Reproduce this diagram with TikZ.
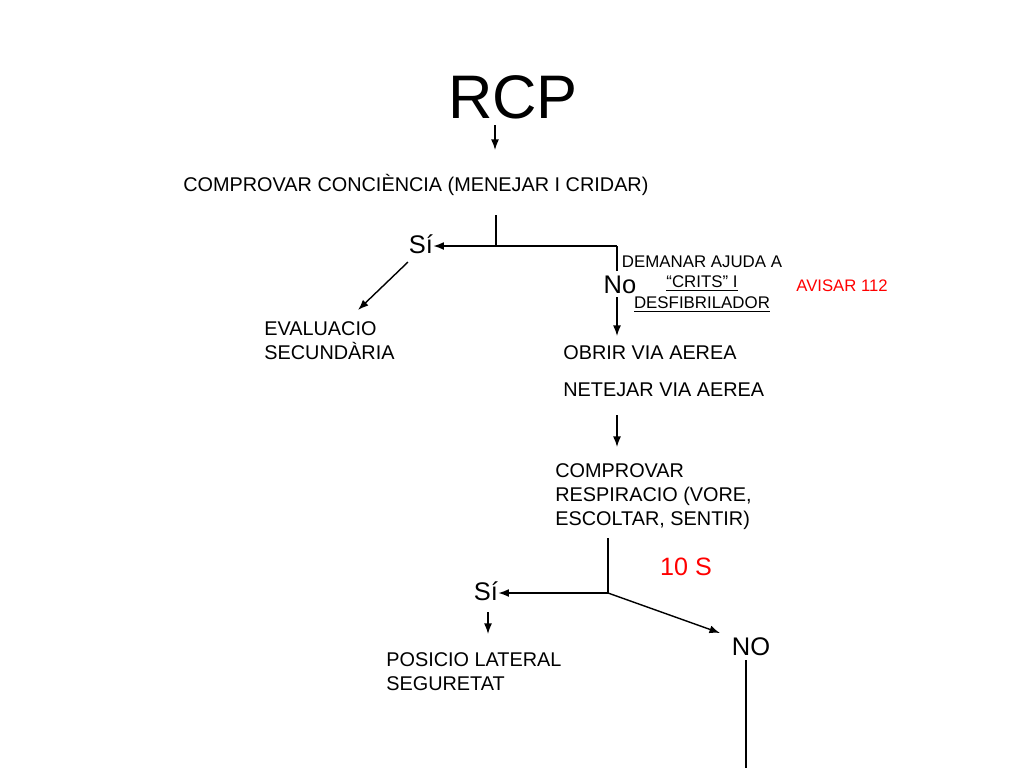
\documentclass[tikz,border=0pt]{standalone}
\usepackage{fontspec}
\setmainfont{Liberation Sans}
\usetikzlibrary{calc,arrows.meta}
\tikzset{
  txt/.style={inner sep=0pt, anchor=west, align=left, font=\fontsize{11.3}{13.7}\selectfont},
  big/.style={inner sep=0pt, font=\fontsize{14.5}{16}\selectfont},
  red/.style={text=red},
  arr/.style={line width=0.8pt, -{Latex[length=6pt,width=4.5pt]}},
  ln/.style={line width=0.8pt}
}
\begin{document}
\begin{tikzpicture}[x=0.02cm, y=-0.02cm]
		%%%%% START %%%%%
		\useasboundingbox (0, 0) rectangle (1024, 768);
		
		\node[inner sep=0pt, font=\fontsize{35}{40}\selectfont] (rcp) at (513, 97) {RCP};
		\coordinate (rcpA) at (495, 125);
		\coordinate (rcpB) at (495, 150);
		\draw[arr] (rcpA) -- (rcpB);
		
		\node[txt] (consc) at (183, 185) {COMPROVAR CONCIÈNCIA (MENEJAR I CRIDAR)};
		
		% first branch
		\coordinate (c1) at (496, 215);
		\coordinate (c2) at (496, 246);
		\coordinate (c3) at (617, 246);
		\coordinate (c4) at (617, 271);
		\node[big] (si1) at (421, 244) {Sí};
		\node[big] (no1) at (620, 285) {No};
		\draw[ln] (c1) -- (c2);
		\draw[arr] (c3) -- (c3 -| si1.east);
		\draw[ln] (c3) -- (c4);
		
		\node[inner sep=0pt, align=center, font=\fontsize{9.6}{11.9}\selectfont] (ajuda) at (702, 284)
			{DEMANAR AJUDA A\\\underline{“CRITS” I}\\\underline{DESFIBRILADOR}};
		\node[inner sep=0pt, red, font=\fontsize{9.5}{11}\selectfont] (avisar) at (842, 286) {AVISAR 112};
		
		\coordinate (e1) at (408, 262);
		\coordinate (e2) at (358, 310);
		\draw[arr] (e1) -- (e2);
		\node[txt] (evalua) at (264, 341) {EVALUACIO\\SECUNDÀRIA};
		
		\coordinate (o1) at (617, 297);
		\coordinate (o2) at (617, 336);
		\draw[arr] (o1) -- (o2);
		\node[txt] (obrir) at (563, 353) {OBRIR VIA AEREA};
		\node[txt] (netejar) at (563, 390) {NETEJAR VIA AEREA};
		
		\coordinate (n1) at (617, 415);
		\coordinate (n2) at (617, 447);
		\draw[arr] (n1) -- (n2);
		\node[txt] (resp) at (555, 497) {COMPROVAR\\RESPIRACIO (VORE,\\ESCOLTAR, SENTIR)};
		
		% second branch
		\node[inner sep=0pt, red, font=\fontsize{14.3}{16}\selectfont] (temps) at (686, 567) {10 S};
		\coordinate (r1) at (608, 538);
		\coordinate (r2) at (608, 593);
		\node[big] (si2) at (486, 591) {Sí};
		\node[big] (no2) at (751, 647) {NO};
		\draw[ln] (r1) -- (r2);
		\draw[arr] (r2) -- (r2 -| si2.east);
		\coordinate (r3) at (720, 633);
		\draw[arr] (r2) -- (r3);
		
		\coordinate (s1) at (488, 612);
		\coordinate (s2) at (488, 634);
		\draw[arr] (s1) -- (s2);
		\node[txt] (posicio) at (386, 672) {POSICIO LATERAL\\SEGURETAT};
		
		\coordinate (d1) at (746, 660);
		\coordinate (d2) at (746, 768);
		\draw[ln] (d1) -- (d2);
		
		%%%%% END %%%%%
	\end{tikzpicture}
\end{document}
